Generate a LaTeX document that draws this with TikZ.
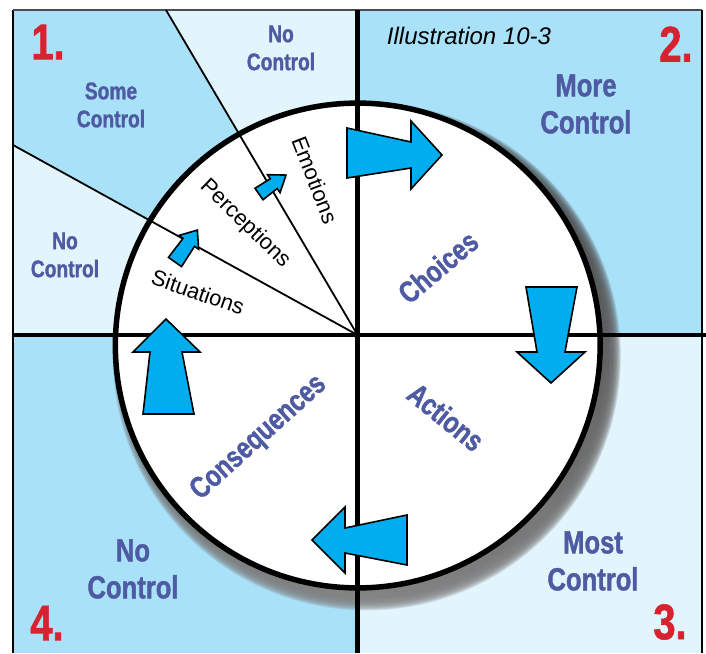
\documentclass[tikz,border=0pt]{standalone}
\usepackage{fontspec}
\setmainfont{Liberation Sans}
\newfontfamily\condfont[FakeStretch=0.8,FakeBold=1.2]{Liberation Sans Bold}
\usetikzlibrary{calc}
\definecolor{midblue}{HTML}{A9E1F9}
\definecolor{paleblue}{HTML}{E2F4FC}
\definecolor{labelblue}{HTML}{4E5BA3}
\definecolor{numred}{HTML}{D7232F}
\definecolor{arrowcyan}{HTML}{00AEEF}
\definecolor{shade}{HTML}{1E2226}
\tikzset{
  ctrl/.style={text=labelblue,font=\condfont\fontsize{24}{28}\selectfont,align=center,inner sep=0pt},
  bigctrl/.style={ctrl,font=\condfont\fontsize{32}{37}\selectfont},
  stage/.style={text=labelblue,font=\condfont\fontsize{30}{34}\selectfont,inner sep=0pt},
  feel/.style={font=\fontsize{22}{26}\selectfont,inner sep=0pt},
  num/.style={text=numred,font=\condfont\fontsize{50}{52}\selectfont,inner sep=0pt},
  blockarrow/.style={fill=arrowcyan,draw=black,line width=1.6pt,line join=miter}
}

\begin{document}
\begin{tikzpicture}[x=1pt,y=-1pt]
  \useasboundingbox (0,0) rectangle (706,653);
  % corners and cuts
  \coordinate (o) at (357.5,335);
  \coordinate (c) at (357.75,345.5);
  \coordinate (topcut) at (166,10);
  \coordinate (leftcut) at (13,145);
  \coordinate (tl) at (13,10);
  \coordinate (tr) at (702,10);
  \coordinate (bl) at (13,653);
  \coordinate (br) at (702,653);
  \coordinate (ml) at (13,335);
  \coordinate (mr) at (706,335);
  \coordinate (mt) at (357.5,10);
  \coordinate (mb) at (357.5,653);
  % quadrants
  \fill[paleblue] (o) -- (topcut) -- (mt) -- cycle;
  \fill[midblue] (o) -- (leftcut) -- (tl) -- (topcut) -- cycle;
  \fill[paleblue] (o) -- (ml) -- (leftcut) -- cycle;
  \fill[midblue] (mt) rectangle (702,335);
  \fill[paleblue] (o) rectangle (br);
  \fill[midblue] (ml) rectangle (mb);
  % frame
  \draw[line width=2.5pt] (bl) -- (tl);
  \draw[black!70,line width=1.5pt] (tl) -- (tr);
  \draw[line width=2pt] (tr) -- (br);
  % shadow
  \foreach \i in {0,...,27}
    \fill[shade,opacity=0.09] ($(c)+(9,11)$) circle[radius={(254-0.8*\i)*1pt}];
  \draw[fill=white,line width=5.5pt] (c) circle[radius=242.4pt];
  % spokes
  \draw[line width=1.8pt] (o) -- (topcut);
  \draw[line width=1.8pt] (o) -- (leftcut);
  \draw[line width=4.5pt] (ml) -- (mr);
  \draw[line width=4.5pt] (mt) -- (mb);
  % big arrows
  \draw[blockarrow] (347,128) -- (411,142) -- (411,121) -- (442,155) -- (411,189) -- (411,168) -- (347,178) -- cycle;
  \draw[blockarrow] (526,287) -- (577,287) -- (565,352) -- (585,352) -- (551,383) -- (517,352) -- (537,352) -- cycle;
  \draw[blockarrow] (407,515) -- (407,565) -- (345,553) -- (345,573) -- (312,540) -- (345,507) -- (345,528) -- cycle;
  \draw[blockarrow] (143,414) -- (194,414) -- (182,352) -- (200,352) -- (166,319) -- (133,352) -- (150,352) -- cycle;
  % small arrows
  \foreach \x/\y/\a/\l/\w in {175/262/55/39/12, 259/194/35/33/11}
    \draw[blockarrow,shift={(\x,\y)},rotate=\a] (0,-\w+4) -- (\l-15,-\w+5) -- (\l-15,-\w) -- (\l,0)
      -- (\l-15,\w) -- (\l-15,\w-5) -- (0,\w-4) -- cycle;
  % labels
  \node[num] (one) at (48,42) {1.};
  \node[num] (two) at (676,44) {2.};
  \node[num] (three) at (670,622) {3.};
  \node[num] (four) at (47,623) {4.};
  \node[font=\itshape\fontsize{24}{28}\selectfont,inner sep=0pt] (title) at (469,36) {Illustration 10-3};
  \node[ctrl] (nctop) at (281,48) {No\\Control};
  \node[ctrl] (some) at (111,105) {Some\\Control};
  \node[ctrl] (ncleft) at (65,255) {No\\Control};
  \node[bigctrl] (more) at (586,104) {More\\Control};
  \node[bigctrl] (most) at (593,561) {Most\\Control};
  \node[bigctrl] (ncbottom) at (133,569) {No\\Control};
  \node[feel,rotate=-69] (emo) at (315,180) {Emotions};
  \node[feel,rotate=-44] (perc) at (245,224) {Perceptions};
  \node[feel,rotate=-19] (sit) at (198,292) {Situations};
  \node[stage,rotate=40] (cho) at (438,267) {Choices};
  \node[stage,rotate=-39] (act) at (446,417) {Actions};
  \node[stage,rotate=42] (cons) at (259,438) {Consequences};
\end{tikzpicture}
\end{document}
